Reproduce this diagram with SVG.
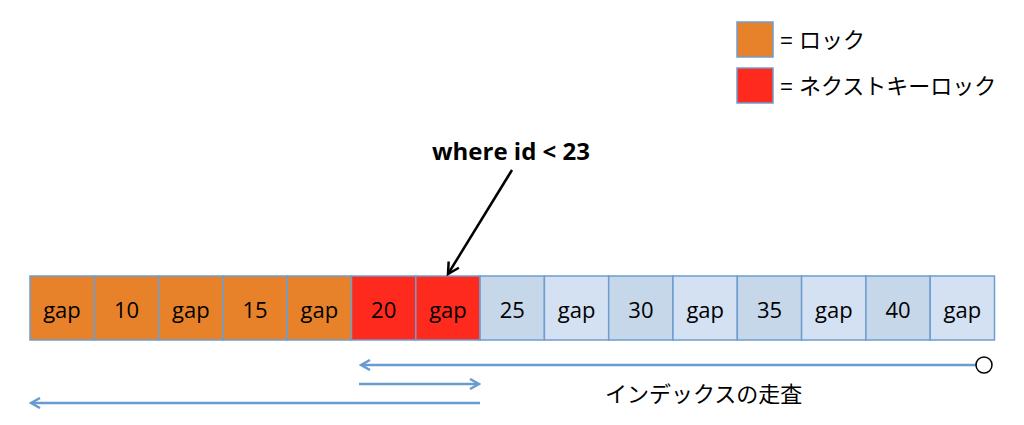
<svg xmlns="http://www.w3.org/2000/svg" width="1024" height="425" viewBox="0 0 1024 425">
<style>
.cell{stroke:#6F9DCF;stroke-width:1.5}
.lock{fill:#E8822A}
.nk{fill:#FF2A1E}
.ga{fill:#D3E1F3}
.nu{fill:#C6D7EA}
.t{font-family:"Open Sans","Liberation Sans",sans-serif;font-size:22px;fill:#000;text-anchor:middle}
.j{font-family:"Liberation Sans","Noto Sans CJK JP",sans-serif;font-size:22px;fill:#000}
.b{stroke:#6A9BD0;stroke-width:2.5;fill:none}
</style>
<defs>
<marker id="ab" markerWidth="12" markerHeight="12" refX="10" refY="6" orient="auto" markerUnits="userSpaceOnUse">
<path d="M1,1 L10,6 L1,11" fill="none" stroke="#6A9BD0" stroke-width="2.5"/>
</marker>
<marker id="ak" markerWidth="16" markerHeight="16" refX="13" refY="8" orient="auto" markerUnits="userSpaceOnUse">
<path d="M2,2 L13,8 L2,14" fill="none" stroke="#000" stroke-width="2.5"/>
</marker>
</defs>
<g id="legend">
<rect x="737" y="22" width="36" height="35" class="cell lock"/>
<text x="780" y="48" class="j">= ロック</text>
<rect x="737" y="68" width="36" height="35" class="cell nk"/>
<text x="780" y="94" class="j">= ネクストキーロック</text>
</g>
<g id="query">
<text x="511" y="160" font-family="'Open Sans','Liberation Sans',sans-serif" font-weight="bold" font-size="24" text-anchor="middle">where id &lt; 23</text>
</g>
<g id="cells">
<rect x="30" y="276" width="64.3" height="64" class="cell lock"/><text x="62" y="318" class="t">gap</text>
<rect x="94.3" y="276" width="64.3" height="64" class="cell lock"/><text x="126.5" y="318" class="t">10</text>
<rect x="158.6" y="276" width="64.3" height="64" class="cell lock"/><text x="190.8" y="318" class="t">gap</text>
<rect x="222.9" y="276" width="64.3" height="64" class="cell lock"/><text x="255" y="318" class="t">15</text>
<rect x="287.2" y="276" width="64.3" height="64" class="cell lock"/><text x="319.4" y="318" class="t">gap</text>
<rect x="351.5" y="276" width="64.3" height="64" class="cell nk"/><text x="383.7" y="318" class="t">20</text>
<rect x="415.8" y="276" width="64.3" height="64" class="cell nk"/><text x="448" y="318" class="t">gap</text>
<rect x="480.1" y="276" width="64.3" height="64" class="cell nu"/><text x="512.3" y="318" class="t">25</text>
<rect x="544.4" y="276" width="64.3" height="64" class="cell ga"/><text x="576.6" y="318" class="t">gap</text>
<rect x="608.7" y="276" width="64.3" height="64" class="cell nu"/><text x="640.9" y="318" class="t">30</text>
<rect x="673" y="276" width="64.3" height="64" class="cell ga"/><text x="705.2" y="318" class="t">gap</text>
<rect x="737.3" y="276" width="64.3" height="64" class="cell nu"/><text x="769.5" y="318" class="t">35</text>
<rect x="801.6" y="276" width="64.3" height="64" class="cell ga"/><text x="833.8" y="318" class="t">gap</text>
<rect x="865.9" y="276" width="64.3" height="64" class="cell nu"/><text x="898" y="318" class="t">40</text>
<rect x="930.2" y="276" width="64.3" height="64" class="cell ga"/><text x="962.4" y="318" class="t">gap</text>
</g>
<g id="connectors">
<line x1="512" y1="170" x2="448" y2="274" stroke="#000" stroke-width="2.5" marker-end="url(#ak)"/>
<line x1="976" y1="365" x2="361" y2="365" class="b" marker-end="url(#ab)"/>
<circle cx="984" cy="365" r="8" fill="#fff" stroke="#000" stroke-width="1.5"/>
<line x1="359" y1="384" x2="479" y2="384" class="b" marker-end="url(#ab)"/>
<line x1="480" y1="403" x2="31" y2="403" class="b" marker-end="url(#ab)"/>
</g>
<g id="scan-label">
<text x="605" y="402" class="j" font-size="23">インデックスの走査</text>
</g>
</svg>
